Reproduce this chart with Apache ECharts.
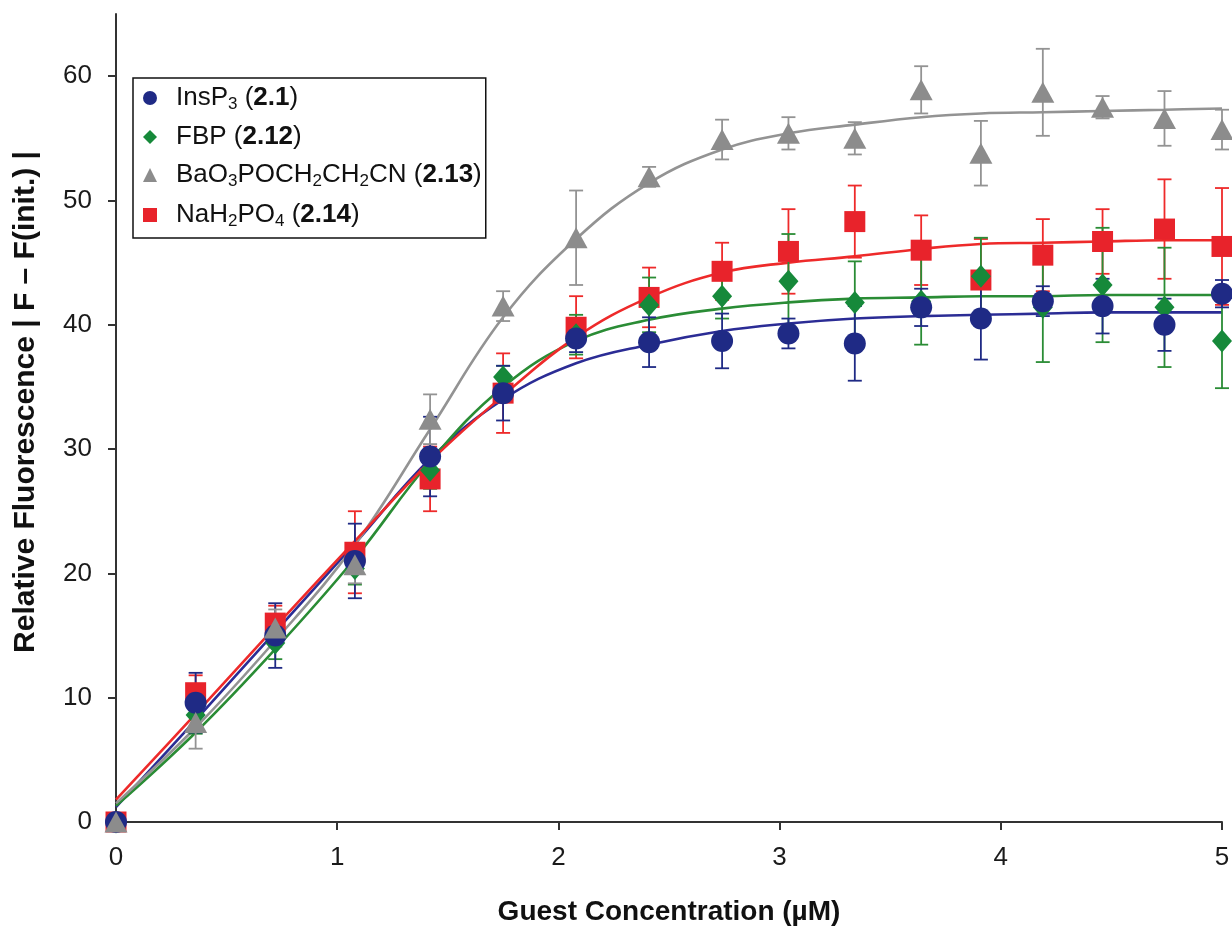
<!DOCTYPE html>
<html>
<head>
<meta charset="utf-8">
<script src="https://cdn.jsdelivr.net/npm/echarts@6/dist/echarts.min.js"></script>
<style>
	html, body { margin: 0; padding: 0; background: #fff; }
	#main { width: 1232px; height: 928px; }
</style>
</head>
<body>
<div id="main"></div>
<script>
// guest concentration (µM) of each measured point
var conc = [0, 0.36, 0.72, 1.08, 1.42, 1.75, 2.08, 2.41, 2.74, 3.04, 3.34, 3.64, 3.91, 4.19, 4.46, 4.74, 5.0];

// InsP3 (2.1)
var insp3 = [0, 9.6, 15.0, 21.0, 29.4, 34.5, 38.9, 38.6, 38.7, 39.3, 38.5, 41.4, 40.5, 41.9, 41.5, 40.0, 42.5];
var insp3Err = [0, 2.4, 2.6, 3.0, 3.2, 2.2, 1.1, 2.0, 2.2, 1.2, 3.0, 1.5, 3.3, 1.2, 2.2, 2.1, 1.1];
var insp3Fit = [1.2, 8.2, 15.3, 22.4, 29.2, 34.0, 36.9, 38.4, 39.5, 40.1, 40.5, 40.7, 40.8, 40.9, 41.0, 41.0, 41.0];

// FBP (2.12)
var fbp = [0, 8.6, 14.4, 20.4, 28.3, 35.8, 39.2, 41.6, 42.3, 43.5, 41.8, 41.9, 43.9, 41.4, 43.2, 41.4, 38.7];
var fbpErr = [0, 1.5, 1.3, 1.3, 1.5, 0.9, 1.6, 2.2, 1.8, 3.8, 3.3, 3.5, 3.1, 4.4, 4.6, 4.8, 3.8];
var fbpFit = [1.3, 7.2, 13.9, 21.2, 29.0, 35.0, 38.7, 40.4, 41.3, 41.8, 42.1, 42.2, 42.3, 42.3, 42.4, 42.4, 42.4];

// BaO3POCH2CH2CN (2.13)
var bao = [0, 8.0, 15.6, 20.7, 32.4, 41.5, 47.0, 51.9, 54.9, 55.4, 55.0, 58.9, 53.8, 58.7, 57.5, 56.6, 55.7];
var baoErr = [0, 2.1, 1.5, 1.5, 2.0, 1.2, 3.8, 0.8, 1.6, 1.3, 1.3, 1.9, 2.6, 3.5, 0.9, 2.2, 1.6];
var baoFit = [1.5, 7.6, 14.6, 22.3, 31.6, 40.6, 46.9, 51.4, 54.1, 55.4, 56.1, 56.7, 57.0, 57.1, 57.2, 57.3, 57.4];

// NaH2PO4 (2.14)
var nah = [0, 10.4, 16.0, 21.7, 27.6, 34.5, 39.8, 42.2, 44.3, 45.9, 48.3, 46.0, 43.6, 45.6, 46.7, 47.7, 46.3];
var nahErr = [0, 1.4, 1.4, 3.3, 2.6, 3.2, 2.5, 2.4, 2.3, 3.4, 2.9, 2.8, 3.3, 2.9, 2.6, 4.0, 4.7];
var nahFit = [1.8, 8.7, 15.7, 22.6, 29.0, 34.3, 39.0, 42.2, 44.2, 45.0, 45.5, 46.1, 46.5, 46.6, 46.7, 46.8, 46.8];

var yTicks = [0, 10, 20, 30, 40, 50, 60];

var colors = {
	insp3: '#1f2a85',
	fbp: '#16893a',
	bao: '#8c8c8c',
	nah: '#e8232b'
};
var lineColors = {
	insp3: '#2b2c95',
	fbp: '#2a8c35',
	bao: '#939393',
	nah: '#ee2a2a'
};

function pairs(ys) {
	return conc.map(function(x, i) { return [x, ys[i]]; });
}
function errPairs(ys, es) {
	return conc.map(function(x, i) { return [x, ys[i] - es[i], ys[i] + es[i]]; });
}

//误差线
function errorSeries(name, ys, es, color) {
	return {
		name: name,
		type: 'custom',
		data: errPairs(ys, es),
		z: 3,
		silent: true,
		renderItem: function(params, api) {
			var x = api.value(0);
			var lo = api.coord([x, api.value(1)]);
			var hi = api.coord([x, api.value(2)]);
			if (Math.abs(lo[1] - hi[1]) < 1) {
				return null;
			}
			var w = 7;
			var st = { stroke: color, lineWidth: 1.8 };
			return {
				type: 'group',
				children: [
					{ type: 'line', shape: { x1: lo[0], y1: lo[1], x2: hi[0], y2: hi[1] }, style: st },
					{ type: 'line', shape: { x1: lo[0] - w, y1: lo[1], x2: lo[0] + w, y2: lo[1] }, style: st },
					{ type: 'line', shape: { x1: hi[0] - w, y1: hi[1], x2: hi[0] + w, y2: hi[1] }, style: st }
				]
			};
		}
	};
}

function fitSeries(name, ys, color) {
	return {
		name: name,
		type: 'line',
		data: pairs(ys),
		smooth: 0.4,
		showSymbol: false,
		silent: true,
		z: 2,
		lineStyle: { color: color, width: 2.6 }
	};
}

function pointSeries(name, ys, symbol, size, color, z) {
	return {
		name: name,
		type: 'scatter',
		data: pairs(ys),
		symbol: symbol,
		symbolSize: size,
		z: z,
		itemStyle: { color: color, opacity: 1 }
	};
}

var names = ['InsP3 (2.1)', 'FBP (2.12)', 'BaO3POCH2CH2CN (2.13)', 'NaH2PO4 (2.14)'];
var legendText = {
	'InsP3 (2.1)': '{t|InsP}{s|3}{t| (}{b|2.1}{t|)}',
	'FBP (2.12)': '{t|FBP (}{b|2.12}{t|)}',
	'BaO3POCH2CH2CN (2.13)': '{t|BaO}{s|3}{t|POCH}{s|2}{t|CH}{s|2}{t|CN (}{b|2.13}{t|)}',
	'NaH2PO4 (2.14)': '{t|NaH}{s|2}{t|PO}{s|4}{t| (}{b|2.14}{t|)}'
};

var myChart = echarts.init(document.getElementById('main'));
var axisFont = 'Liberation Sans, Arial, sans-serif';

var option = {
	backgroundColor: '#fff',
	animation: false,
	grid: {
		left: 116,
		right: 10,
		top: 14,
		bottom: 106,
		outerBoundsMode: 'none'
	},
	legend: {
		data: [
			{ name: names[0], icon: 'circle' },
			{ name: names[1], icon: 'diamond' },
			{ name: names[2], icon: 'triangle' },
			{ name: names[3], icon: 'rect' }
		],
		orient: 'vertical',
		left: 133,
		top: 78,
		itemWidth: 14,
		itemHeight: 14,
		itemGap: 11,
		padding: [6, 4, 8, 10],
		borderColor: '#111',
		borderWidth: 1.5,
		backgroundColor: '#fff',
		selectedMode: false,
		formatter: function(name) {
			return legendText[name];
		},
		textStyle: {
			padding: [0, 0, 0, 14],
			rich: {
				t: { fontFamily: axisFont, fontSize: 26, color: '#111', lineHeight: 30 },
				b: { fontFamily: axisFont, fontSize: 26, color: '#111', fontWeight: 'bold', lineHeight: 30 },
				s: { fontFamily: axisFont, fontSize: 17, color: '#111', verticalAlign: 'bottom', lineHeight: 30, padding: [12, 0, 0, 0] }
			}
		}
	},
	xAxis: {
		type: 'value',
		min: 0,
		max: 5,
		interval: 1,
		name: 'Guest Concentration (µM)',
		nameLocation: 'middle',
		nameGap: 76,
		nameTextStyle: {
			fontFamily: axisFont,
			fontSize: 28,
			fontWeight: 'bold',
			color: '#111'
		},
		splitLine: { show: false },
		axisLine: { onZero: false, lineStyle: { color: '#333', width: 2 } },
		axisTick: { length: 8, lineStyle: { color: '#333', width: 2 } },
		axisLabel: {
			margin: 23,
			fontFamily: axisFont,
			fontSize: 26,
			color: '#1a1a1a'
		}
	},
	yAxis: {
		type: 'value',
		min: 0,
		max: 65,
		interval: 10,
		name: 'Relative Fluorescence | F – F(init.) |',
		nameLocation: 'middle',
		nameGap: 75,
		nameTextStyle: {
			fontFamily: axisFont,
			fontSize: 30,
			fontWeight: 'bold',
			color: '#111',
			padding: [0, 0, 0, 32]
		},
		splitLine: { show: false },
		axisLine: { show: true, lineStyle: { color: '#333', width: 2 } },
		axisTick: {
			show: true,
			length: 8,
			customValues: yTicks,
			lineStyle: { color: '#333', width: 2 }
		},
		axisLabel: {
			margin: 24,
			customValues: yTicks,
			fontFamily: axisFont,
			fontSize: 26,
			color: '#1a1a1a'
		}
	},
	series: [
		fitSeries('InsP3 fit', insp3Fit, lineColors.insp3),
		fitSeries('FBP fit', fbpFit, lineColors.fbp),
		fitSeries('BaO fit', baoFit, lineColors.bao),
		fitSeries('NaH2PO4 fit', nahFit, lineColors.nah),
		errorSeries('NaH2PO4 err', nah, nahErr, lineColors.nah),
		errorSeries('FBP err', fbp, fbpErr, lineColors.fbp),
		errorSeries('InsP3 err', insp3, insp3Err, colors.insp3),
		errorSeries('BaO err', bao, baoErr, lineColors.bao),
		pointSeries(names[3], nah, 'rect', 21, colors.nah, 4),
		pointSeries(names[1], fbp, 'diamond', [20, 23], colors.fbp, 5),
		pointSeries(names[0], insp3, 'circle', 22, colors.insp3, 6),
		pointSeries(names[2], bao, 'triangle', [23, 21], colors.bao, 7)
	]
};

myChart.setOption(option);
</script>
</body>
</html>
